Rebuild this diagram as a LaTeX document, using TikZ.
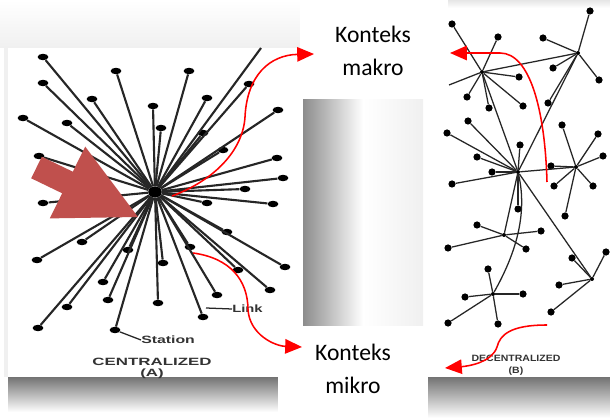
\documentclass[tikz,border=0pt]{standalone}
\usepackage{fontspec}
\setmainfont{Carlito}
\newfontfamily\scanfont{Liberation Sans}
\usepackage{graphicx}
\usetikzlibrary{arrows.meta,shapes.geometric}
\definecolor{fatred}{HTML}{C0504D}
\newcommand{\wide}[2]{\scalebox{#1}[1]{#2}}
\tikzset{
  station/.style={fill=black,ellipse,minimum width=0.27cm,minimum height=0.16cm,inner sep=0pt},
  dot/.style={fill=black,circle,minimum size=0.18cm,inner sep=0pt},
  joint/.style={fill=black,circle,minimum size=0.1cm,inner sep=0pt},
  link/.style={line width=1.5pt,black!85},
  thinlink/.style={line width=0.9pt,black!85},
  redcurve/.style={red,line width=1.1pt,-{Triangle[length=0.42cm,width=0.36cm]}},
  konteks/.style={font=\fontsize{16.8}{23.5}\selectfont,align=center,inner sep=0pt},
  scanlabel/.style={font=\scanfont\bfseries\fontsize{7.5}{8.5}\selectfont,text=black!80,inner sep=0pt,align=center}
}

\begin{document}
\begin{tikzpicture}[x=0.025cm,y=-0.025cm]
\useasboundingbox (0,0) rectangle (610,418);
%shadows and panels
\shade[top color=white,bottom color=black!6](0,0)rectangle(300,48);
\shade[top color=black!55,bottom color=white](8,377)rectangle(280,412);
\shade[top color=black!55,bottom color=white](428,377)rectangle(610,418);
\shade[top color=black!10,bottom color=white](448,0)rectangle(610,8);
\fill[black!6](4,48)rectangle(8,377);
\fill[white](8,48)rectangle(303,377); %panel A
\fill[white](448,8)rectangle(610,377); %panel B

%centralized network
\node[fill=black,ellipse,minimum width=0.34cm,minimum height=0.28cm,inner sep=0pt](hub)at(155,192){};
\foreach \x/\y [count=\i] in {43/57,116/71,189/71,43/83,92/99,153/106,161/128,207/98,
  249/84,23/118,67/123,203/133,278/110,223/150,39/156,277/158,283/178,245/189,
  207/203,273/204,43/203,227/232,82/242,37/260,190/247,163/263,128/250,238/270,
  285/267,103/282,217/295,270/290,108/300,158/303,67/307,203/317,38/328,115/330}
  \node[station](s\i)at(\x,\y){};
\foreach \i in {1,...,38}
  \draw[link](hub)--(s\i);
\coordinate(cut)at(261,48);
\draw[link](hub)--(cut);

%labels A
\node[scanlabel,anchor=west](station)at(141,340){\wide{1.5}{Station}};
\draw[thinlink](s38)--(station.west);
\coordinate(linkpt)at(206,308);
\node[scanlabel,anchor=west](link)at(232,309){\wide{1.4}{Link}};
\draw[thinlink](linkpt)--(link.west);
\node[scanlabel](centr)at(152,362){\wide{1.6}{CENTRALIZED}};
\node[scanlabel](centrA)at(152,374){\wide{1.6}{(A)}};

%big arrow
\fill[fatred](41.8,156.7)--(72.8,171.7)--(85.2,146.6)--(138,217)--(49.8,218.4)
  --(62.2,193.3)--(31.2,178.3)--cycle;

%decentralized network
\node[joint](hubNW)at(482,72){};
\node[joint](hubNE)at(578,53){};
\node[joint](hubMid)at(518,172){};
\node[joint](hubE)at(576,167){};
\node[joint](hubC)at(504,235){};
\node[joint](hubSE)at(592,279){};
\node[joint](hubSW)at(493,294){};
\foreach \x/\y [count=\i] in {452/24,498/37,519/77,467/97,489/108,523/106}
  {\node[dot](nw\i)at(\x,\y){}; \draw[thinlink](hubNW)--(nw\i);}
\foreach \x/\y [count=\i] in {590/11,543/38,553/68,599/80,548/103}
  {\node[dot](ne\i)at(\x,\y){}; \draw[thinlink](hubNE)--(ne\i);}
\foreach \x/\y [count=\i] in {468/121,447/133,477/157,492/172,520/145,452/184,518/209}
  {\node[dot](mid\i)at(\x,\y){}; \draw[thinlink](hubMid)--(mid\i);}
\foreach \x/\y [count=\i] in {551/166,562/125,598/134,603/156,593/186,554/186,565/216}
  {\node[dot](e\i)at(\x,\y){}; \draw[thinlink](hubE)--(e\i);}
\foreach \x/\y [count=\i] in {477/225,541/231,448/248,526/249}
  {\node[dot](c\i)at(\x,\y){}; \draw[thinlink](hubC)--(c\i);}
\foreach \x/\y [count=\i] in {606/252,572/258,559/285,551/312}
  {\node[dot](se\i)at(\x,\y){}; \draw[thinlink](hubSE)--(se\i);}
\foreach \x/\y [count=\i] in {488/269,523/294,465/297,448/323,498/324}
  {\node[dot](sw\i)at(\x,\y){}; \draw[thinlink](hubSW)--(sw\i);}
\coordinate(cutB)at(449,85);
\draw[thinlink](hubNW)--(cutB);
\draw[thinlink](hubNW)--(hubNE);
\draw[thinlink](hubNW)--(hubMid);
\draw[thinlink](hubNE)--(hubMid);
\draw[thinlink](hubMid)--(hubE);
\draw[thinlink](hubMid)--(hubC);
\draw[thinlink](hubMid)--(hubSE);
\draw[thinlink](hubMid)..controls(528,215)and(515,255)..(hubSW);

%labels B
\node[scanlabel,font=\scanfont\bfseries\fontsize{6.5}{7}\selectfont](decentr)at(516,358){\wide{1.15}{DECENTRALIZED}};
\node[scanlabel,font=\scanfont\bfseries\fontsize{6.5}{7}\selectfont](decentrB)at(516,371){\wide{1.15}{(B)}};

%white boxes and gradient
\fill[white](300,0)rectangle(448,100);
\fill[white](278,325)rectangle(428,418);
\shade[left color=black!45,right color=black!6,middle color=white](303,100)rectangle(423,325);

%texts
\node[konteks](makro)at(373,51){Konteks\\makro};
\node[konteks](mikro)at(353,369){Konteks\\mikro};

%red arrows
\coordinate(hubOut)at(172,196);
\coordinate(linkOut)at(193,253);
\coordinate(eastOut)at(547,182);
\coordinate(baseOut)at(547,325);
\coordinate(makroL)at(314,54);
\coordinate(makroR)at(450,53);
\coordinate(mikroL)at(302,347);
\coordinate(mikroR)at(445,368);
\draw[redcurve](hubOut)..controls(215,180)and(243,150)..(245,117)
  ..controls(247,75)and(270,55)..(makroL);
\draw[redcurve](eastOut)..controls(545,110)and(530,53)..(500,53)--(makroR);
\draw[redcurve](linkOut)..controls(230,258)and(248,280)..(248,310)
  ..controls(250,335)and(275,346)..(mikroL);
\draw[redcurve](baseOut)..controls(510,325)and(500,335)..(497,347)
  ..controls(492,362)and(470,366)..(mikroR);
\end{tikzpicture}
\end{document}
